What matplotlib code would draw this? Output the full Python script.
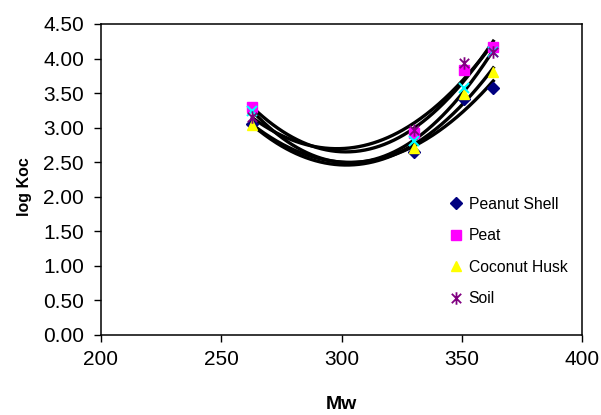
import numpy as np
import matplotlib.pyplot as plt
from matplotlib.path import Path

plt.rcParams['font.family'] = ['Liberation Sans', 'DejaVu Sans']

# molecular weight of each compound
mw = [263, 330, 351, 363]

# log Koc for each sorbent
peanut_shell = [3.05, 2.65, 3.42, 3.58]
peat = [3.30, 2.92, 3.83, 4.17]
coconut_husk = [3.04, 2.70, 3.48, 3.80]
extra = [3.24, 2.80, 3.57, 4.10]
soil = [3.15, 2.96, 3.93, 4.10]

yticks = [0.0, 0.5, 1.0, 1.5, 2.0, 2.5, 3.0, 3.5, 4.0, 4.5]
xticks = [200, 250, 300, 350, 400]

# excel style star: vertical bar plus an x
star = Path([(0, -1), (0, 1), (-0.75, -0.75), (0.75, 0.75), (-0.75, 0.75), (0.75, -0.75)],
            [Path.MOVETO, Path.LINETO, Path.MOVETO, Path.LINETO, Path.MOVETO, Path.LINETO])

series = [
    (peanut_shell, 'Peanut Shell', dict(marker='D', color='#000080', ms=6)),
    (peat, 'Peat', dict(marker='s', color='#FF00FF', ms=6.5)),
    (coconut_husk, 'Coconut Husk', dict(marker='^', color='#FFFF00', ms=7.5)),
    (extra, '_nolegend_', dict(marker='x', color='#00FFFF', ms=7, mew=1.5)),
    (soil, 'Soil', dict(marker=star, color='#800080', ms=9, mew=1.3, mfc='none')),
]

fig = plt.figure(figsize=(6.01, 4.15), dpi=100)
ax = fig.add_axes([0.1676, 0.1928, 0.8014, 0.7494])

xs = np.linspace(mw[0], mw[-1], 200)
for vals, name, st in series:
    # 2nd order polynomial trendline
    c = np.polyfit(mw, vals, 2)
    ax.plot(xs, np.polyval(c, xs), color='black', lw=2.4, zorder=2)
for vals, name, st in series:
    ax.plot(mw, vals, ls='none', label=name, zorder=3,
            mec=st['color'], mfc=st.get('mfc', st['color']), marker=st['marker'],
            ms=st['ms'], mew=st.get('mew', 1))

ax.set_xlim(200, 400)
ax.set_ylim(0, 4.5)
ax.set_xticks(xticks)
ax.set_yticks(yticks)
ax.set_yticklabels(['%.2f' % v for v in yticks])
ax.tick_params(direction='out', length=5, width=1, labelsize=15)
ax.tick_params(axis='y', pad=7)
ax.tick_params(axis='x', pad=6)
for s in ax.spines.values():
    s.set_linewidth(1.1)

ax.set_xlabel('Mw', fontsize=14, fontweight='bold', labelpad=19)
ax.set_ylabel('log Koc', fontsize=11.5, fontweight='bold')
ax.yaxis.set_label_coords(-0.143, 0.476)

ax.legend(loc='upper left', bbox_to_anchor=(0.692, 0.49), frameon=False,
          fontsize=11.3, labelspacing=1.05, handletextpad=0.3, handlelength=1.0)

plt.savefig('out.png', dpi=100)
